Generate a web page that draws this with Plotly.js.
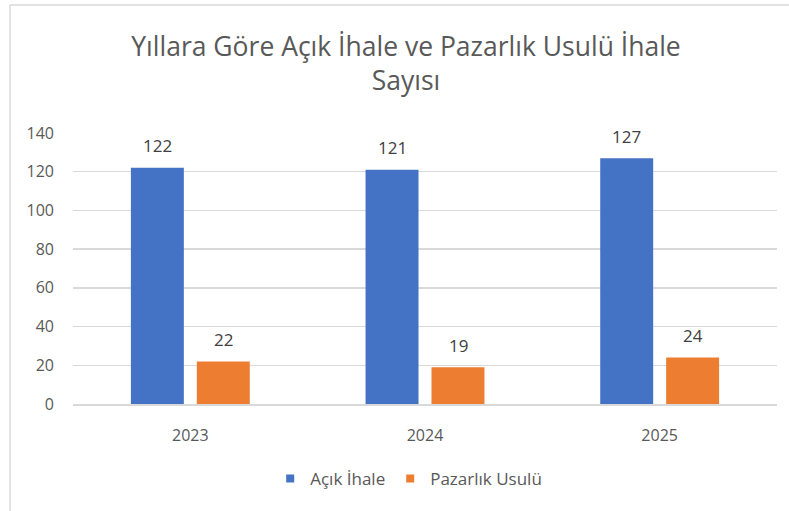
<!DOCTYPE html>
<html><head><meta charset="utf-8">
<script src="https://cdn.plot.ly/plotly-3.0.1.min.js"></script>
<style>html,body{margin:0;padding:0;background:#fff}#c{width:789px;height:511px}</style>
</head><body><div id="c"></div>
<script>
const years = ['2023', '2024', '2025'];
const acikIhale = [122, 121, 127];
const pazarlikUsulu = [22, 19, 24];
const seriesNames = ['Açık İhale', 'Pazarlık Usulü'];
const titleText = 'Yıllara Göre Açık İhale ve Pazarlık Usulü İhale<br>Sayısı';

const font = '"Open Sans", sans-serif';
const colors = ['#4472C4', '#ED7D31'];
const series = [acikIhale, pazarlikUsulu];
const traces = [];
series.forEach((vals, si) => {
  traces.push({type:'bar', name: seriesNames[si], x: years, y: vals, marker:{color:colors[si]},
               hoverinfo:'skip', showlegend:false});
});
// legend entries (small square keys like the original)
series.forEach((vals, si) => {
  traces.push({type:'scatter', mode:'markers', name: seriesNames[si], x:[null], y:[null],
               marker:{symbol:'square', size:8, color:colors[si]}, hoverinfo:'skip'});
});
const annotations = [];
series.forEach((vals, si) => {
  vals.forEach((v, i) => {
    annotations.push({x: i, y: v, xref:'x', yref:'y', text: String(v), showarrow:false,
      xshift: si === 0 ? -33 : 33, yshift: 22, yanchor:'middle',
      font:{size:17, color:'#404040', family:font}});
  });
});
const layout = {
  width:789, height:511,
  margin:{l:73, r:12, t:133, b:107},
  paper_bgcolor:'#fff', plot_bgcolor:'#fff',
  font:{family:font, color:'#595959', size:16},
  title:{text:titleText, x:0.5146, xanchor:'center', y:0.891, yanchor:'top',
         font:{size:26.5, color:'#595959', family:font}},
  barmode:'group', bargap:0.438, bargroupgap:0.197,
  xaxis:{type:'category', range:[-0.5, 2.5], showgrid:false, showline:true, linecolor:'#d9d9d9', linewidth:1.5,
         ticks:'', tickfont:{size:16, color:'#595959'}, ticklabelstandoff:16},
  yaxis:{range:[0,140], dtick:20, showgrid:true, gridcolor:'#d9d9d9', gridwidth:1.5,
         zeroline:false, showline:false, ticks:'', tickfont:{size:16, color:'#595959'},
         ticklabelstandoff:18},
  showlegend:true,
  legend:{orientation:'h', xref:'container', yref:'container', x:0.518, xanchor:'center',
          y:1 - 479/511, yanchor:'middle',
          font:{size:17, color:'#595959'}, traceorder:'normal'},
  annotations: annotations,
  shapes:[
    {type:'line', xref:'paper', yref:'paper', x0:(10-73)/704, x1:(10-73)/704, y0:-1, y1:(404-5)/271,
     line:{color:'#d9d9d9', width:1.5}},
    {type:'line', xref:'paper', yref:'paper', x0:(10-73)/704, x1:2, y0:(404-5)/271, y1:(404-5)/271,
     line:{color:'#d9d9d9', width:1.5}}
  ]
};
Plotly.newPlot('c', traces, layout, {displayModeBar:false, staticPlot:true});
</script></body></html>
